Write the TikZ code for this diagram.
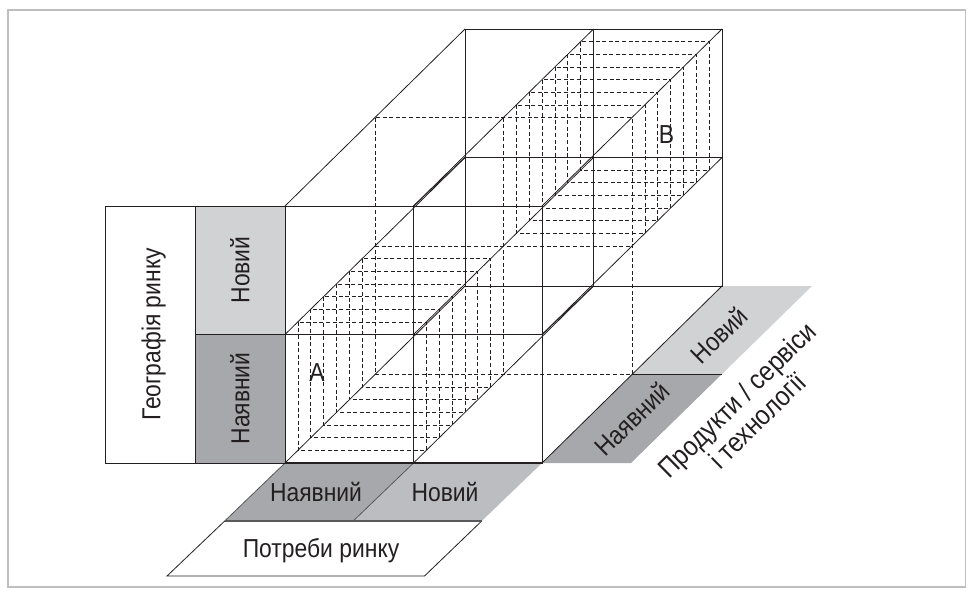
\documentclass[tikz,border=0pt]{standalone}
\usepackage{fontspec}
\setmainfont{Liberation Sans}
\newfontfamily\labf[FakeStretch=0.88]{Liberation Sans}
\definecolor{dkg}{HTML}{A7A8AB}
\definecolor{ltg}{HTML}{D1D2D4}
\definecolor{mdg}{HTML}{BCBDC0}
\definecolor{frm}{HTML}{BCBEC0}
\definecolor{ink}{HTML}{231F20}
\definecolor{stk}{HTML}{58595B}
\begin{document}
\begin{tikzpicture}[x=1pt,y=-1pt,
  edge/.style={draw=ink,line width=0.8pt},
  dsh/.style={draw=ink,line width=0.7pt,dash pattern=on 4pt off 2.6pt},
  labbase/.style={font=\labf\fontsize{26}{33}\selectfont,text=ink,inner sep=0pt},
  lab/.style={labbase,text height=18.6pt,text depth=0pt}]
\useasboundingbox (0,0) rectangle (973,590);
\draw[frm,line width=1.8pt] (8.2,9.7) rectangle (965.5,587);
% cube vertices
\foreach \i in {0,1,2}{\foreach \j in {0,1,2}{
  \coordinate (F\i\j) at ({285+128.5*\i},{206+128.5*\j});
  \coordinate (B\i\j) at ({465+128.5*\i},{29+128.5*\j});
}}
% bottom strip
\coordinate (P0) at (224.7,521);
\coordinate (P1) at (353.2,521);
\coordinate (P2) at (481.7,521);
\coordinate (Q0) at (167,576);
\coordinate (Q2) at (424.5,576);
\fill[dkg] (F02) -- (F12) -- (P1) -- (P0) -- cycle;
\fill[mdg] (F12) -- (F22) -- (P2) -- (P1) -- cycle;
\draw[edge] (P0) -- (Q0) -- (Q2) -- (P2);
\draw[edge,draw=stk] (F02) -- (P0);
\draw[edge,draw=stk] (F12) -- (P1);
\draw[draw=stk,line width=1.4pt] (P0) -- (P2);
% right strip
\coordinate (R0) at (631,463);
\coordinate (R1) at (632,374.5);
\coordinate (R2) at (721.5,374.5);
\coordinate (R3) at (812,286);
\fill[dkg] (F22) -- (R0) -- (R2) -- (R1) -- cycle;
\fill[ltg] (R1) -- (R2) -- (R3) -- (B22) -- cycle;
\draw[edge] (R1) -- (R2);
% left box
\coordinate (L0) at (105,206);
\coordinate (L1) at (195,206);
\coordinate (L2) at (195,334.5);
\coordinate (L3) at (195,463);
\draw[edge] (L0) rectangle (L3);
\filldraw[edge,fill=ltg] (L1) rectangle (F01);
\filldraw[edge,fill=dkg] (L2) rectangle (F02);
% dashed slices of cube A (front half, bottom-left cell)
\foreach \k in {1,...,6}{
  \draw[dsh] ({285+12.857*\k},{334.5-12.643*\k}) rectangle ++(128.5,128.5);
}
% dashed slices of cube B (back half, top-right cell)
\foreach \k in {8,...,13}{
  \draw[dsh] ({413.5+12.857*\k},{206-12.643*\k}) rectangle ++(128.5,128.5);
}
% dashed middle plane
\coordinate (M00) at (375,117.5);
\coordinate (M10) at (503.5,117.5);
\coordinate (M01) at (375,246);
\coordinate (M21) at (632,246);
\coordinate (M12) at (503.5,374.5);
\coordinate (M22) at (632,374.5);
\draw[dsh] (M00) rectangle (M22);
\draw[dsh] (M10) -- (M12);
\draw[dsh] (M01) -- (M21);
% solid cube
\draw[edge] (F00) rectangle (F22);
\draw[edge] (F10) -- (F12);
\draw[edge] (F01) -- (F21);
\draw[edge] (B00) rectangle (B22);
\draw[edge] (B10) -- (B12);
\draw[edge] (B01) -- (B21);
\foreach \i in {0,1,2}{\foreach \j in {0,1,2}{
  \draw[edge] (F\i\j) -- (B\i\j);
}}
\draw[edge] (F10) -- (B01);
\draw[edge] (F21) -- (B12);
\draw[line width=1.6pt,draw=ink] (F02) -- (F22);
% labels
\node[lab,rotate=90] (geo) at (151,334.5) {Географія ринку};
\node[lab,rotate=90] (gnew) at (240,270) {Новий};
\node[lab,rotate=90] (gold) at (240,398.5) {Наявний};
\node[lab] (pold) at (316,492) {Наявний};
\node[lab] (pnew) at (445,492) {Новий};
\node[lab] (need) at (321,548.5) {Потреби ринку};
\node[lab,rotate=44.5] (rold) at (632,419) {Наявний};
\node[lab,rotate=44.5] (rnew) at (719,335) {Новий};
\node[labbase,font=\labf\fontsize{27.5}{29}\selectfont,rotate=44.5,align=center] (prod) at (747,410) {Продукти / сервіси\\і технології};
\node[lab] (A) at (317,372.5) {A};
\node[lab] (B) at (666.5,134.5) {B};
\end{tikzpicture}
\end{document}
